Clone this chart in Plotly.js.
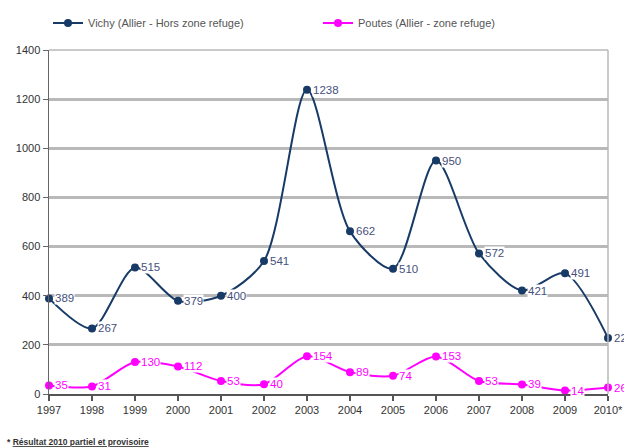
<!DOCTYPE html>
<html><head><meta charset="utf-8">
<script src="https://cdn.plot.ly/plotly-3.0.1.min.js"></script>
<style>body{margin:0;background:#fff}#c{width:624px;height:448px}</style>
</head><body><div id="c"></div>
<script>
const years = ["1997","1998","1999","2000","2001","2002","2003","2004","2005","2006","2007","2008","2009","2010*"];
const vichy = [389,267,515,379,400,541,1238,662,510,950,572,421,491,228];
const poutes = [35,31,130,112,53,40,154,89,74,153,53,39,14,26];
const vichyName = "Vichy (Allier - Hors zone refuge)";
const poutesName = "Poutes (Allier - zone refuge)";
const yTicks = [0,200,400,600,800,1000,1200,1400];

const navy = "#173a66", magenta = "#ff00ff";
const FONT = 'Liberation Sans';
const ann = [];
function addLabels(vals, color){
  vals.forEach((v,i)=>ann.push({x:i,y:v,xref:'x',yref:'y',text:String(v),showarrow:false,
    xanchor:'left',yanchor:'middle',xshift:5,bgcolor:'#ffffff',borderpad:0,
    font:{family:FONT,size:11.5,color:color}}));
}
addLabels(vichy,'#46507e');
addLabels(poutes,magenta);
ann.push({xref:'paper',yref:'paper',x:-0.078,y:-0.118,xanchor:'left',yanchor:'top',showarrow:false,
  text:'<b>* <u>Résultat 2010 partiel et provisoire</u></b>',font:{family:FONT,size:8.5,color:'#333'}});

const xs = years.map((_,i)=>i);
const traces = [
 {x:xs,y:vichy,name:vichyName,type:'scatter',mode:'lines+markers',legend:'legend',
  line:{color:navy,width:2,shape:'spline',smoothing:0.8},marker:{color:navy,size:8},cliponaxis:false},
 {x:xs,y:poutes,name:poutesName,type:'scatter',mode:'lines+markers',legend:'legend2',
  line:{color:magenta,width:2,shape:'spline',smoothing:0.8},marker:{color:magenta,size:8},cliponaxis:false}
];
const legFont = {family:FONT,size:11,color:'#555'};
const layout = {
  width:624,height:448,margin:{l:49,r:16,t:50,b:54,autoexpand:false},
  paper_bgcolor:'#fff',plot_bgcolor:'#fff',showlegend:true,
  legend:{xref:'container',yref:'container',x:48/624,y:1-23/448,xanchor:'left',yanchor:'middle',
    font:legFont,itemwidth:30,bgcolor:'rgba(0,0,0,0)'},
  legend2:{xref:'container',yref:'container',x:318/624,y:1-23/448,xanchor:'left',yanchor:'middle',
    font:legFont,itemwidth:30,bgcolor:'rgba(0,0,0,0)'},
  xaxis:{range:[0,13],tickmode:'array',tickvals:xs,ticktext:years,automargin:false,
    showgrid:false,zeroline:false,showline:true,linecolor:'#555',linewidth:2,
    ticks:'outside',ticklen:5,tickcolor:'#555',tickwidth:1.5,
    tickfont:{family:FONT,size:11,color:'#333'}},
  yaxis:{range:[0,1400],tickmode:'array',tickvals:yTicks,automargin:false,
    showgrid:true,gridcolor:'#b9b9b9',gridwidth:3,zeroline:false,showline:true,linecolor:'#666',linewidth:1.5,
    ticks:'outside',ticklen:5,tickcolor:'#666',
    tickfont:{family:FONT,size:11,color:'#333'}},
  shapes:[
    {type:'line',xref:'paper',yref:'paper',x0:0,x1:1,y0:1,y1:1,line:{color:'#b9b9b9',width:1.5}},
    {type:'line',xref:'paper',yref:'paper',x0:1,x1:1,y0:0,y1:1,line:{color:'#b9b9b9',width:1.5}}
  ],
  annotations:ann
};
Plotly.newPlot('c',traces,layout,{displayModeBar:false,staticPlot:true});
</script></body></html>
